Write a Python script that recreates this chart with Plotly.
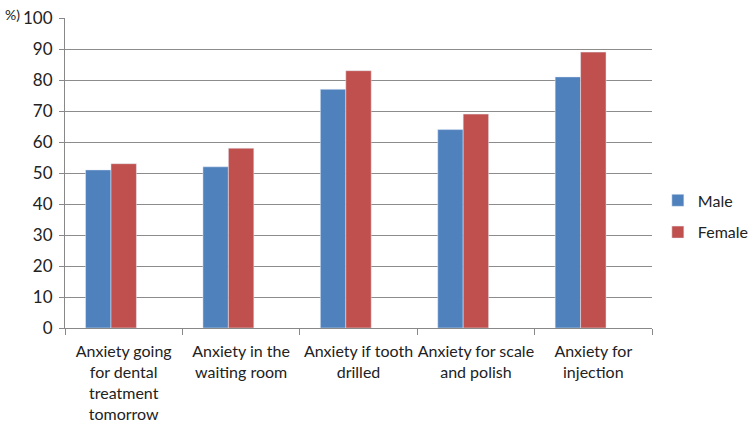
import plotly.graph_objects as go

categories = [
    "Anxiety going<br>for dental<br>treatment<br>tomorrow",
    "Anxiety in the<br>waiting room",
    "Anxiety if tooth<br>drilled",
    "Anxiety for scale<br>and polish",
    "Anxiety for<br>injection",
]
male = [51, 52, 77, 64, 81]
female = [53, 58, 83, 69, 89]
# the source chart reserves a slot for a third, empty series
empty_series = [None, None, None, None, None]
y_ticks = list(range(0, 101, 10))

font = "Lato, 'Open Sans', sans-serif"

fig = go.Figure()
fig.add_trace(go.Bar(name="Male", x=categories, y=male, marker_color="#4F81BD",
                     legendgroup="m"))
fig.add_trace(go.Bar(name="Female", x=categories, y=female, marker_color="#C0504D",
                     legendgroup="f"))
fig.add_trace(go.Bar(name="", x=categories, y=empty_series, marker_color="#9BBB59",
                     showlegend=False, hoverinfo="skip"))

fig.update_layout(
    width=752, height=428,
    margin=dict(l=65, r=100, t=18, b=100, autoexpand=False),
    plot_bgcolor="white", paper_bgcolor="white",
    barmode="group", bargap=0.35, bargroupgap=0,
    font=dict(family=font, size=16, color="#222"),
    legend=dict(x=1.01, y=0.36, yanchor="middle", xanchor="left",
                font=dict(size=16), itemwidth=30, tracegroupgap=8),
    showlegend=True,
)
fig.update_xaxes(
    showline=True, linecolor="#888", linewidth=1,
    ticks="outside", tickson="boundaries", ticklen=6, tickcolor="#888",
    showgrid=False, tickangle=0, automargin=False, ticklabelstandoff=9,
)
fig.update_yaxes(
    range=[0, 100], tickvals=y_ticks, showline=True, linecolor="#888", linewidth=1,
    ticks="outside", ticklen=5, tickcolor="#888",
    showgrid=True, gridcolor="#8c8c8c", gridwidth=1, zeroline=False,
    tickfont=dict(size=17), automargin=False, ticklabelstandoff=3,
)
fig.add_annotation(text="%)", xref="paper", yref="paper", x=-0.09, y=1.0,
                   xanchor="center", yanchor="middle", showarrow=False,
                   font=dict(size=14, color="#222"), yshift=4)
fig.write_html("out.html", config={"displayModeBar": False},
               post_script="document.body.style.margin='0';document.body.style.padding='0';")
